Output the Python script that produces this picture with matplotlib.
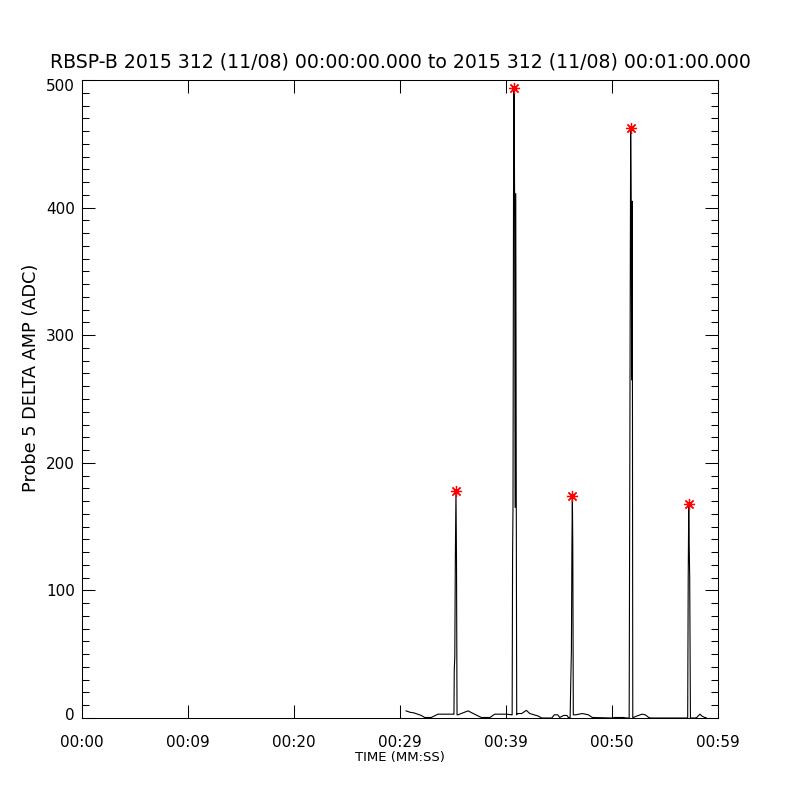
import matplotlib
matplotlib.use("Agg")
import matplotlib.pyplot as plt
import matplotlib.transforms as mtransforms
from matplotlib.ticker import MultipleLocator, FixedLocator

# time in seconds since 00:00:00, amplitude in ADC
time_s = [30.57, 30.94, 31.32, 32.01, 32.33, 32.95, 33.58, 35.03,
          35.09, 35.12, 35.17, 35.22, 35.28, 35.33, 35.38,
          35.47, 35.78, 36.42, 36.79, 37.67, 38.49, 38.93, 40.07, 40.54,
          40.58, 40.62, 40.66, 40.71, 40.76, 40.81, 40.86, 40.92, 40.97, 41.01,
          41.04, 41.48, 41.92, 42.24, 43.05, 43.37, 44.31, 44.56, 44.88, 45.07,
          45.44, 45.75, 45.88,
          46.05, 46.12, 46.17, 46.22, 46.26, 46.30, 46.35,
          46.57, 47.20, 47.77, 48.14, 49.97, 50.28, 51.04, 51.39,
          51.62, 51.70, 51.76, 51.81, 51.86, 51.91, 51.96,
          52.01, 52.33, 52.83, 53.14, 53.46, 53.65, 56.98,
          57.14, 57.19, 57.24, 57.28, 57.33, 57.40,
          57.55, 57.86, 57.99, 58.30, 58.49, 58.74, 58.87]
amp = [5.6, 4.5, 4.0, 2.0, 0.4, 0.4, 3.0, 3.0,
       3.0, 38, 48, 124, 178, 124, 2.5,
       2.5, 3.5, 5.6, 4.0, 0.4, 0.4, 3.0, 3.0, 2.5,
       2.5, 126, 165, 411, 494, 411, 165, 411, 165, 2.5,
       3.5, 3.5, 6.0, 3.5, 1.5, 0.0, 0.0, 2.5, 2.5, 0.4,
       2.0, 2.0, 0.4,
       0.4, 33, 52, 136, 174, 136, 2.5,
       2.5, 3.5, 2.5, 0.4, 0.0, 0.4, 0.4, 0.0,
       0.0, 265, 462, 405, 265, 405, 0.4,
       0.4, 1.5, 3.0, 2.5, 0.4, 0.0, 0.0,
       0.0, 110, 168, 137, 110, 0.0,
       0.0, 0.0, 0.4, 3.0, 1.5, 0.4, 0.4]

# detected peaks (red asterisks)
peak_t = [35.28, 40.76, 46.26, 51.76, 57.24]
peak_v = [178, 494, 174, 462, 168]

x_ticks = [0, 10, 20, 30, 40, 50, 60]
x_tick_labels = ["00:00", "00:09", "00:20", "00:29", "00:39", "00:50", "00:59"]
y_ticks = [0, 100, 200, 300, 400, 500]

title = "RBSP-B 2015 312 (11/08) 00:00:00.000 to 2015 312 (11/08) 00:01:00.000"

plt.rcParams['font.family'] = ['DejaVu Sans']
fig = plt.figure(figsize=(8, 8), dpi=100)
ax = fig.add_axes([82/800, 1-718/800, 636/800, 638/800])

ax.plot(time_s, amp, color="black", lw=0.8)
ax.plot(peak_t, peak_v, linestyle="none", marker=(8, 2, 0), markersize=8,
        markeredgecolor="red", markeredgewidth=0.9, color="red")

ax.set_xlim(0, 60)
ax.set_ylim(0, 500)
ax.xaxis.set_major_locator(FixedLocator(x_ticks))
ax.set_xticklabels(x_tick_labels)
ax.yaxis.set_major_locator(FixedLocator(y_ticks))
ax.yaxis.set_minor_locator(MultipleLocator(10))

ax.tick_params(axis="both", which="both", direction="in", top=True, right=True,
               width=0.75, colors="black")
ax.tick_params(axis="x", which="major", length=9.5, pad=12, labelsize=11)
ax.tick_params(axis="y", which="major", length=9.5, pad=5, labelsize=11)
ax.tick_params(axis="y", which="minor", length=5)
for s in ax.spines.values():
    s.set_linewidth(0.75)

# IDL nudges the end labels inward
ylabels = ax.get_yticklabels()
ylabels[0].set_transform(ylabels[0].get_transform() +
                         mtransforms.ScaledTranslation(0, 4/100, fig.dpi_scale_trans))
ylabels[-1].set_transform(ylabels[-1].get_transform() +
                          mtransforms.ScaledTranslation(0, -5/100, fig.dpi_scale_trans))

ax.set_xlabel("TIME (MM:SS)", fontsize=9.5)
ax.xaxis.set_label_coords(0.5, -0.052)
ax.set_ylabel("Probe 5 DELTA AMP (ADC)", fontsize=12.8)
ax.yaxis.set_label_coords(-0.066, 0.533)
ax.set_title(title, fontsize=13.6, pad=9)

fig.savefig("out.png", dpi=100, facecolor="white")
